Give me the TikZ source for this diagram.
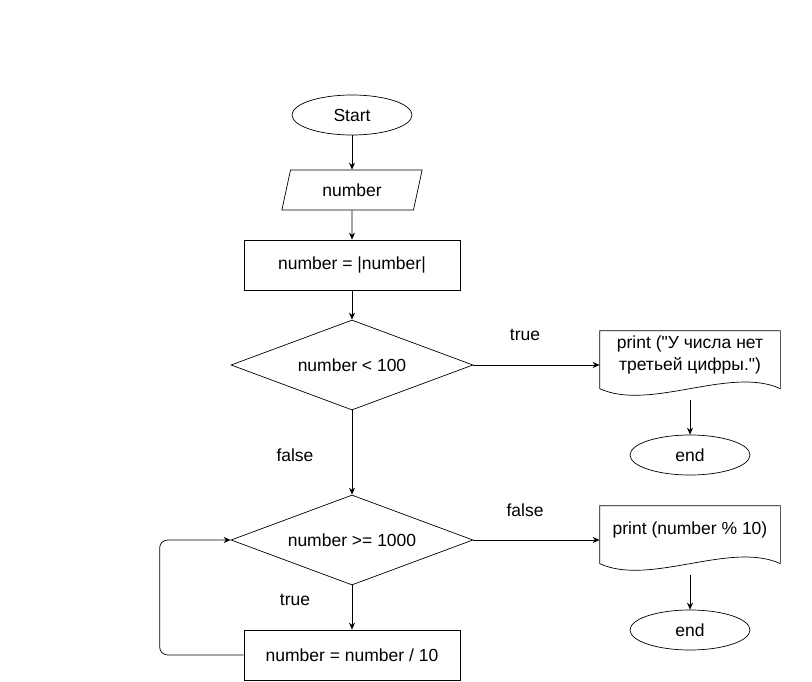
\documentclass[tikz,border=0pt]{standalone}
\usepackage{fontspec}
\setmainfont{Liberation Sans}
\usetikzlibrary{shapes.geometric,arrows.meta}

\tikzset{
	flow/.style={-{Stealth[length=7pt,width=6pt]}},
	terminal/.style={draw, ellipse, minimum width=120, minimum height=40, inner sep=0},
	io/.style={draw, trapezium, trapezium left angle=72, trapezium right angle=108, trapezium stretches=true, minimum width=141, minimum height=40, inner sep=0},
	process/.style={draw, rectangle, minimum width=216, minimum height=50, inner sep=0},
	decision/.style={draw, diamond, aspect=2.69, minimum width=242, minimum height=90, inner sep=0},
	doc/.style={rectangle, minimum width=180, minimum height=48, inner sep=0, align=center},
}

% outline of a document shape round the node #1
\newcommand{\docoutline}[1]{%
	\draw (#1.north west) -- (#1.north east) -- ([yshift=-58pt]#1.north east)
		.. controls ++(-50,-23) and ++(50,23) .. ([yshift=-58pt]#1.north west) -- cycle;}

\begin{document}
\begin{tikzpicture}[x=1pt, y=-1pt, line width=0.7pt, font=\fontsize{17.5}{21.5}\selectfont]
	\useasboundingbox (0,0) rectangle (812,682);
	% main column
	\node[terminal] (start) at (352,115) {Start};
	\node[io] (input) at (352,190) {number};
	\node[process] (abs) at (352,265) {number = |number|};
	\node[decision] (cond1) at (352,365) {number < 100};
	\node[decision] (cond2) at (352,540) {number >= 1000};
	\node[process] (div) at (352,655) {number = number / 10};
	% right branches
	\node[doc] (print1) at (690,355) {print (\textquotedbl У числа нет\\третьей цифры.\textquotedbl)};
	\docoutline{print1}
	\coordinate (print1b) at ([yshift=-45pt]print1.center);
	\node[terminal] (end1) at (690,455) {end};
	\node[doc] (print2) at (690,530) {print (number \% 10)};
	\docoutline{print2}
	\coordinate (print2b) at ([yshift=-45pt]print2.center);
	\node[terminal] (end2) at (690,630) {end};
	% labels
	\node (lbl1) at (525,335) {true};
	\node (lbl2) at (295,455) {false};
	\node (lbl3) at (525,510) {false};
	\node (lbl4) at (295,600) {true};
	% connectors
	\draw[flow] (start) -- (input);
	\draw[flow] (input) -- (abs);
	\draw[flow] (abs) -- (cond1);
	\draw[flow] (cond1.east) -- ([yshift=-10pt]print1.west);
	\draw[flow] (print1b) -- (end1);
	\draw[flow] (cond1) -- (cond2);
	\draw[flow] (cond2.east) -- ([yshift=-10pt]print2.west);
	\draw[flow] (print2b) -- (end2);
	\draw[flow] (cond2) -- (div);
	% loop back
	\draw[flow, rounded corners=8] (div.west) -- ++(-84,0) |- (cond2.west);
\end{tikzpicture}
\end{document}
